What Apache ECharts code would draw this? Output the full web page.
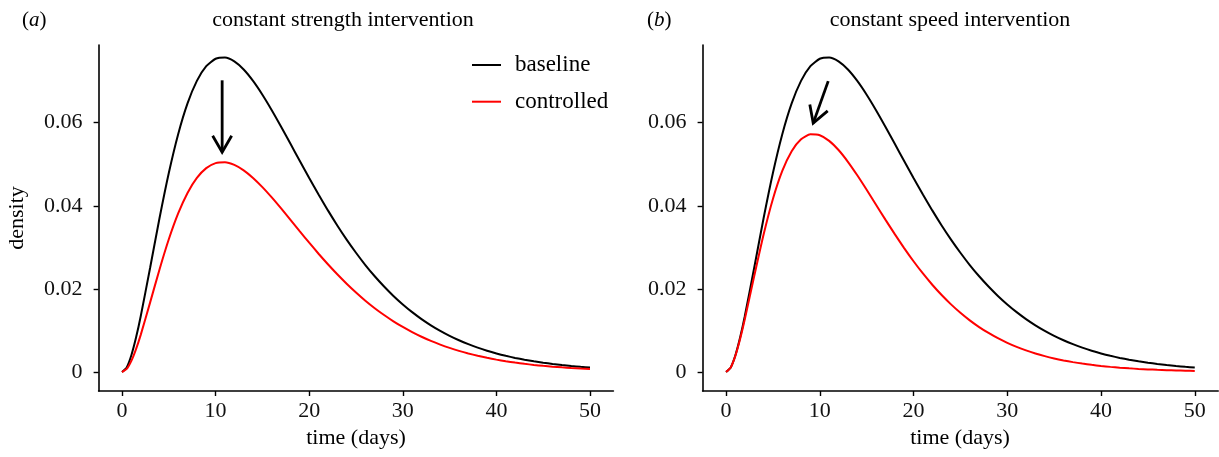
<!DOCTYPE html>
<html>
<head>
<meta charset="utf-8">
<script src="https://cdn.jsdelivr.net/npm/echarts@6/dist/echarts.min.js"></script>
<style>
  html, body { margin: 0; padding: 0; background: #fff; }
  #chart { width: 1219px; height: 457px; }
</style>
</head>
<body>
<div id="chart"></div>
<script>
const days = [0, 0.5, 1, 1.5, 2, 3, 4, 5, 6, 7, 8, 9, 10, 11, 12, 13, 14, 15, 16, 17, 18, 19, 20,
  21, 22, 23, 24, 25, 26, 27, 28, 29, 30, 31, 32, 33, 34, 35, 36, 37, 38, 39, 40,
  41, 42, 43, 44, 45, 46, 47, 48, 49, 50];

const baseline = [0, 0.001109, 0.004042, 0.008284, 0.013415, 0.025046, 0.036948, 0.047905, 0.057243,
  0.064651, 0.070072, 0.073593, 0.075391, 0.075698, 0.074757, 0.072804, 0.070058, 0.066739,
  0.063015, 0.059035, 0.054916, 0.050779, 0.046679, 0.042701, 0.038896, 0.035272, 0.031870,
  0.028705, 0.025747, 0.023044, 0.020581, 0.018310, 0.016263, 0.014407, 0.012738, 0.011244,
  0.009904, 0.008705, 0.007644, 0.006701, 0.005866, 0.005126, 0.004473, 0.003897, 0.003394,
  0.002954, 0.002565, 0.002229, 0.001938, 0.001678, 0.001448, 0.001251, 0.001084];

const controlledStrength = [0, 0.000739, 0.002695, 0.005523, 0.008943, 0.016697, 0.024632, 0.031937,
  0.038162, 0.043101, 0.046715, 0.049062, 0.050261, 0.050465, 0.049838, 0.048536, 0.046705,
  0.044493, 0.042010, 0.039357, 0.036611, 0.033853, 0.031119, 0.028467, 0.025931, 0.023515,
  0.021247, 0.019137, 0.017165, 0.015363, 0.013721, 0.012207, 0.010842, 0.009605, 0.008492,
  0.007496, 0.006603, 0.005803, 0.005096, 0.004467, 0.003911, 0.003417, 0.002982, 0.002598,
  0.002263, 0.001969, 0.001710, 0.001486, 0.001292, 0.001119, 0.000965, 0.000834, 0.000723];

const controlledSpeed = [0, 0.001094, 0.003930, 0.007943, 0.012684, 0.023028, 0.033033, 0.041647,
  0.048390, 0.053144, 0.056010, 0.057200, 0.056979, 0.055632, 0.053423, 0.050591, 0.047338,
  0.043851, 0.040261, 0.036676, 0.033175, 0.029829, 0.026663, 0.023718, 0.021008, 0.018525,
  0.016276, 0.014255, 0.012432, 0.010820, 0.009397, 0.008129, 0.007021, 0.006048, 0.005200,
  0.004463, 0.003823, 0.003267, 0.002790, 0.002378, 0.002024, 0.001720, 0.001459, 0.001236,
  0.001047, 0.000886, 0.000748, 0.000632, 0.000535, 0.000450, 0.000378, 0.000317, 0.000267];

const xTicks = [0, 10, 20, 30, 40, 50];
const yTicks = [0, 0.02, 0.04, 0.06];

// arrows: [fromX, fromY, toX, toY]
const arrowStrength = [[10.7, 0.0702, 10.7, 0.0529]];
const arrowSpeed = [[10.9, 0.0700, 9.3, 0.0599]];

const panelTitles = ['constant strength intervention', 'constant speed intervention'];
const panelTags = ['a', 'b'];
const seriesNames = ['baseline', 'controlled'];
const xName = 'time (days)';
const yName = 'density';

const FONT = 'Liberation Serif';

function pairs(xs, ys) { return xs.map((x, i) => [x, ys[i]]); }

function xAxisCfg(gi) {
  return {
    type: 'value', gridIndex: gi, min: -2.5, max: 52.5,
    axisLine: { show: true, onZero: false, lineStyle: { color: '#000', width: 1.6 } },
    axisTick: { show: true, length: 5, customValues: xTicks, lineStyle: { color: '#000', width: 1.4 } },
    axisLabel: { customValues: xTicks, margin: 9, color: '#111', fontFamily: FONT, fontSize: 22 },
    splitLine: { show: false }
  };
}
function yAxisCfg(gi) {
  return {
    type: 'value', gridIndex: gi, min: -0.00457, max: 0.0787,
    axisLine: { show: true, onZero: false, lineStyle: { color: '#000', width: 1.6 } },
    axisTick: { show: true, length: 5, customValues: yTicks, lineStyle: { color: '#000', width: 1.4 } },
    axisLabel: { customValues: yTicks, margin: 16, color: '#111', fontFamily: FONT, fontSize: 22,
      formatter: v => (Math.abs(v) < 1e-9 ? '0' : v.toFixed(2)) },
    splitLine: { show: false }
  };
}

function arrowRender(params, api) {
  const p1 = api.coord([api.value(0), api.value(1)]);
  const p2 = api.coord([api.value(2), api.value(3)]);
  const dx = p2[0] - p1[0], dy = p2[1] - p1[1];
  const len = Math.sqrt(dx * dx + dy * dy);
  const ux = dx / len, uy = dy / len;
  const hl = 19, ang = Math.PI / 6;
  const c = Math.cos(ang), s = Math.sin(ang);
  const w1 = [p2[0] - hl * (ux * c - uy * s), p2[1] - hl * (uy * c + ux * s)];
  const w2 = [p2[0] - hl * (ux * c + uy * s), p2[1] - hl * (uy * c - ux * s)];
  return {
    type: 'group',
    children: [
      { type: 'polyline', shape: { points: [p1, p2] }, style: { stroke: '#000', lineWidth: 2.8, fill: null } },
      { type: 'polyline', shape: { points: [w1, p2, w2] }, style: { stroke: '#000', lineWidth: 2.8, fill: null, lineJoin: 'miter' } }
    ]
  };
}

const chart = echarts.init(document.getElementById('chart'), null, { renderer: 'canvas' });

const lineBase = { type: 'line', showSymbol: false, symbol: 'none', smooth: 0.2, animation: false };

const option = {
  backgroundColor: '#fff',
  animation: false,
  grid: [
    { left: 98.6, top: 45, width: 514.8, height: 346 },
    { left: 702.6, top: 45, width: 515.6, height: 346 }
  ],
  xAxis: [xAxisCfg(0), xAxisCfg(1)],
  yAxis: [yAxisCfg(0), yAxisCfg(1)],
  legend: {
    data: seriesNames,
    orient: 'vertical',
    left: 472, top: 53, padding: 0,
    icon: 'rect', itemWidth: 29, itemHeight: 2, itemGap: 12.7,
    textStyle: { fontFamily: FONT, fontSize: 23, color: '#000', lineHeight: 24, padding: [0, 0, 0, 9] },
    selectedMode: false
  },
  graphic: [
    { type: 'text', x: 22, y: 20, style: { text: '({i|' + panelTags[0] + '})', font: '21px ' + FONT, fill: '#000', textVerticalAlign: 'middle',
      rich: { i: { fontStyle: 'italic', fontFamily: FONT, fontSize: 21 } } } },
    { type: 'text', x: 647, y: 20, style: { text: '({i|' + panelTags[1] + '})', font: '21px ' + FONT, fill: '#000', textVerticalAlign: 'middle',
      rich: { i: { fontStyle: 'italic', fontFamily: FONT, fontSize: 21 } } } },
    { type: 'text', x: 343, y: 20, style: { text: panelTitles[0], font: '22px ' + FONT, fill: '#000', textAlign: 'center', textVerticalAlign: 'middle' } },
    { type: 'text', x: 950, y: 20, style: { text: panelTitles[1], font: '22px ' + FONT, fill: '#000', textAlign: 'center', textVerticalAlign: 'middle' } },
    { type: 'text', x: 356, y: 438, style: { text: xName, font: '22px ' + FONT, fill: '#000', textAlign: 'center', textVerticalAlign: 'middle' } },
    { type: 'text', x: 960, y: 438, style: { text: xName, font: '22px ' + FONT, fill: '#000', textAlign: 'center', textVerticalAlign: 'middle' } },
    { type: 'text', x: 17, y: 218, rotation: Math.PI / 2, style: { text: yName, font: '22px ' + FONT, fill: '#000', textAlign: 'center', textVerticalAlign: 'middle' } }
  ],
  series: [
    Object.assign({}, lineBase, { name: seriesNames[0], xAxisIndex: 0, yAxisIndex: 0, data: pairs(days, baseline),
      color: '#000', itemStyle: { color: '#000' }, lineStyle: { color: '#000', width: 2 }, z: 3 }),
    Object.assign({}, lineBase, { name: seriesNames[1], xAxisIndex: 0, yAxisIndex: 0, data: pairs(days, controlledStrength),
      color: '#ff0000', itemStyle: { color: '#ff0000' }, lineStyle: { color: '#ff0000', width: 2 }, z: 4 }),
    Object.assign({}, lineBase, { name: seriesNames[0], xAxisIndex: 1, yAxisIndex: 1, data: pairs(days, baseline),
      color: '#000', itemStyle: { color: '#000' }, lineStyle: { color: '#000', width: 2 }, z: 3 }),
    Object.assign({}, lineBase, { name: seriesNames[1], xAxisIndex: 1, yAxisIndex: 1, data: pairs(days, controlledSpeed),
      color: '#ff0000', itemStyle: { color: '#ff0000' }, lineStyle: { color: '#ff0000', width: 2 }, z: 4 }),
    { type: 'custom', xAxisIndex: 0, yAxisIndex: 0, renderItem: arrowRender, data: arrowStrength, silent: true, z: 5 },
    { type: 'custom', xAxisIndex: 1, yAxisIndex: 1, renderItem: arrowRender, data: arrowSpeed, silent: true, z: 5 }
  ]
};
chart.setOption(option);
</script>
</body>
</html>
